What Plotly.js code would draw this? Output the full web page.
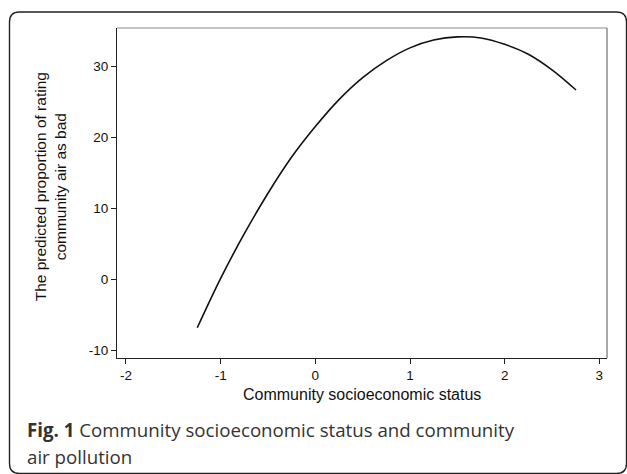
<!DOCTYPE html>
<html>
<head>
<meta charset="utf-8">
<script src="https://cdn.plot.ly/plotly-3.0.1.min.js"></script>
<style>
  html, body { margin: 0; padding: 0; background: #fff; }
  #chart { width: 627px; height: 474px; }
</style>
</head>
<body>
<div id="chart"></div>
<script>
// Data
const sesValues = [-1.247, -1.0, -0.75, -0.5, -0.25, 0, 0.25, 0.5, 0.75, 1.0, 1.25, 1.5, 1.75, 2.0, 2.25, 2.5, 2.754];
const predictedBad = [-6.86, 0.1, 6.4, 12.1, 17.2, 21.5, 25.3, 28.4, 30.8, 32.6, 33.7, 34.15, 34.0, 33.1, 31.7, 29.5, 26.66];
const xTicks = [-2, -1, 0, 1, 2, 3];
const yTicks = [-10, 0, 10, 20, 30];
const xTitle = "Community socioeconomic status";
const yTitleLines = ["The predicted proportion of rating", "community air as bad"];
const captionBold = "Fig. 1";
const captionLine1 = " Community socioeconomic status and community";
const captionLine2 = "air pollution";

const trace = {
  x: sesValues,
  y: predictedBad,
  type: "scatter",
  mode: "lines",
  line: { color: "#111111", width: 1.6, shape: "spline" },
  hoverinfo: "skip"
};

// rounded outer box in paper coordinates
const L = -0.2194, R = 1.0398, T = 1.0485, B = -0.35, rx = 0.0204, ry = 0.0303;
const boxPath = `M ${L},${B + ry} L ${L},${T - ry} Q ${L},${T} ${L + rx},${T} L ${R - rx},${T} Q ${R},${T} ${R},${T - ry} L ${R},${B + ry} Q ${R},${B} ${R - rx},${B} L ${L + rx},${B} Q ${L},${B} ${L},${B + ry} Z`;

const tickFont = { family: "Liberation Sans, Arial, sans-serif", size: 13.5, color: "#111" };

const layout = {
  width: 627,
  height: 474,
  margin: { l: 117, r: 20, t: 28, b: 116, pad: 0 },
  paper_bgcolor: "#ffffff",
  plot_bgcolor: "#ffffff",
  showlegend: false,
  xaxis: {
    range: [-2.095, 3.081],
    tickvals: xTicks,
    ticktext: xTicks.map(String),
    ticks: "outside",
    ticklen: 5,
    tickwidth: 1,
    tickcolor: "#222",
    showline: true,
    linecolor: "#222",
    linewidth: 1,
    showgrid: false,
    zeroline: false,
    tickfont: tickFont
  },
  yaxis: {
    range: [-11.128, 35.40],
    tickvals: yTicks,
    ticktext: yTicks.map(String),
    ticks: "outside",
    ticklen: 5,
    tickwidth: 1,
    tickcolor: "#222",
    showline: true,
    linecolor: "#222",
    linewidth: 1,
    showgrid: false,
    zeroline: false,
    tickfont: tickFont
  },
  shapes: [
    { type: "line", xref: "paper", yref: "paper", x0: 0, x1: 1, y0: 1, y1: 1, line: { color: "#8a8a8a", width: 1 } },
    { type: "line", xref: "paper", yref: "paper", x0: 1, x1: 1, y0: 0, y1: 1, line: { color: "#555", width: 1 } },
    { type: "path", xref: "paper", yref: "paper", path: boxPath, line: { color: "#222", width: 1.4 }, fillcolor: "rgba(0,0,0,0)" }
  ],
  annotations: [
    {
      xref: "paper", yref: "paper", x: 0.5004, y: -0.1091, xanchor: "center", yanchor: "middle",
      text: xTitle, showarrow: false,
      font: { family: "Liberation Sans, Arial, sans-serif", size: 16, color: "#111" }
    },
    {
      xref: "paper", yref: "paper", x: -0.1351, y: 0.5197, xanchor: "center", yanchor: "middle",
      text: yTitleLines.join("<br>"), showarrow: false, textangle: -90,
      font: { family: "Liberation Sans, Arial, sans-serif", size: 15.5, color: "#111" }
    },
    {
      xref: "paper", yref: "paper", x: -0.1878, y: -0.2161, xanchor: "left", yanchor: "middle",
      text: "<b>" + captionBold + "</b>" + captionLine1, showarrow: false, align: "left",
      font: { family: "Open Sans, sans-serif", size: 18.7, color: "#333" }
    },
    {
      xref: "paper", yref: "paper", x: -0.1878, y: -0.2991, xanchor: "left", yanchor: "middle",
      text: captionLine2, showarrow: false, align: "left",
      font: { family: "Open Sans, sans-serif", size: 18.7, color: "#333" }
    }
  ]
};

Plotly.newPlot("chart", [trace], layout, { staticPlot: true, displayModeBar: false });
</script>
</body>
</html>
